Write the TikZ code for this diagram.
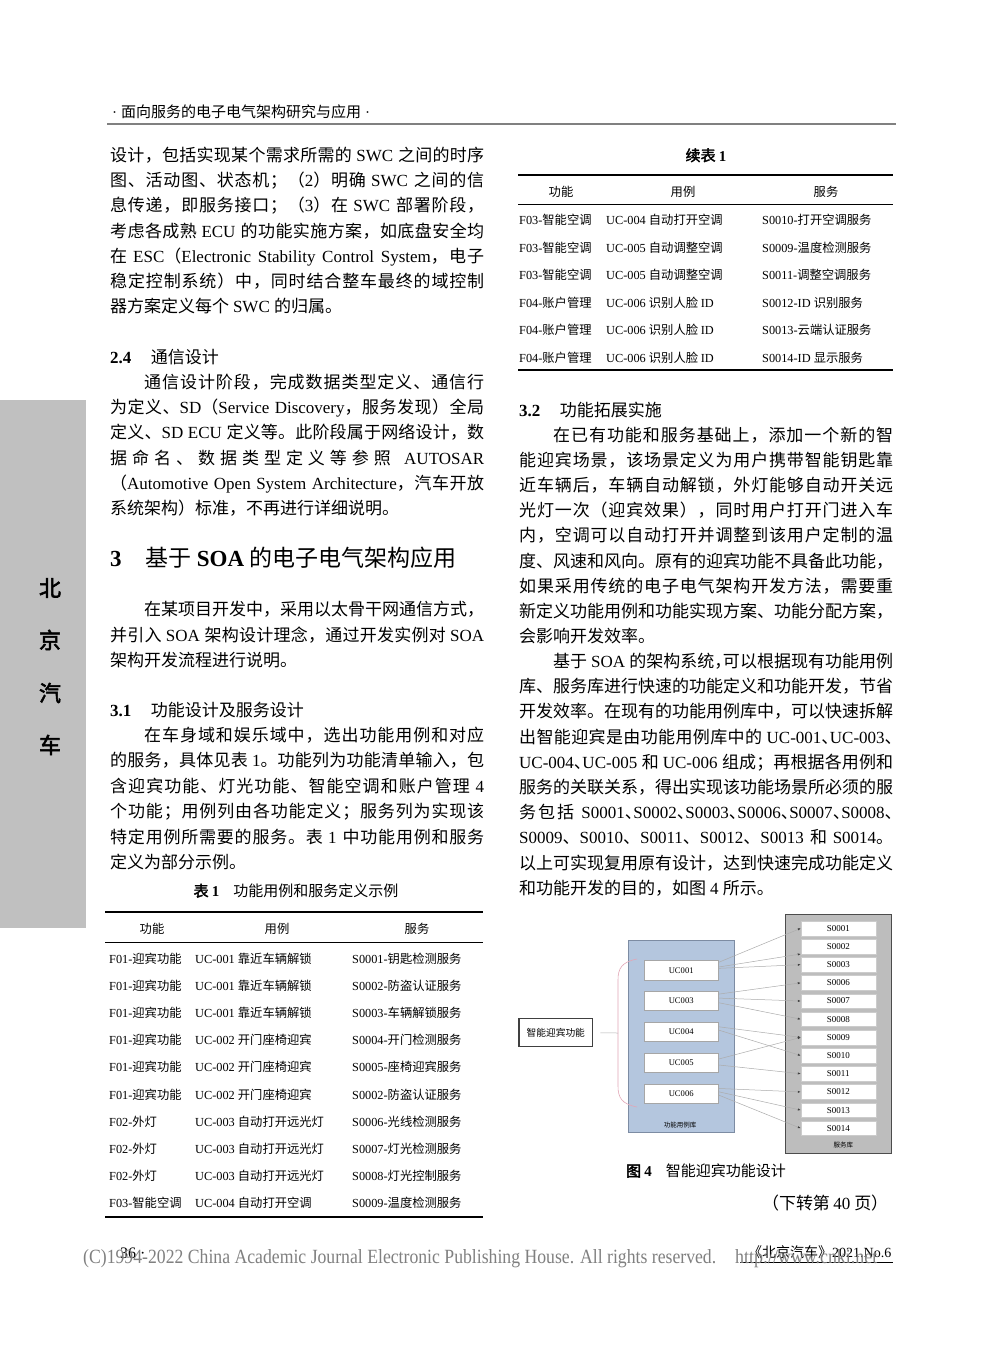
\documentclass[tikz,border=0pt]{standalone}
\usepackage[svgnames]{xcolor}
\usepackage{fontspec}
\usepackage{graphicx}
\usetikzlibrary{arrows.meta,positioning}

\setmainfont{Liberation Serif}
\newfontfamily\cjkfont{Noto Sans CJK SC}[AutoFakeBold=2.5]

\definecolor{barGray}{HTML}{C0C0C0}
\definecolor{ucBlue}{HTML}{B4C6DE}
\definecolor{ucEdge}{HTML}{7D8CA3}
\definecolor{srvGray}{HTML}{BDBDBD}
\definecolor{braceRose}{HTML}{E2A6B6}

\newcommand\fsz[1]{\fontsize{#1}{#1}\selectfont}
\newcommand\jl[1]{\hbox to\hsize{#1}}
\newcommand\el[1]{\hbox to\hsize{#1\hfil}}
\newcommand\ind{\hskip34pt}
\newcommand\hd[1]{\makebox[.5em][l]{#1}}
\newcommand\colpar[2]{\vtop{\hsize=374pt\baselineskip=#1\lineskiplimit=-99pt #2}}

% hanzi get a class of their own: font switch plus a little stretch
\newXeTeXintercharclass\hzclass
\newcount\hzc
\newcommand\sethz[2]{\hzc=#1 \loop\XeTeXcharclass\hzc=\hzclass
  \ifnum\hzc<#2 \advance\hzc by 1 \repeat}
\sethz{"3000}{"303F}
\sethz{"4E00}{"9FFF}
\sethz{"FF00}{"FFEF}
\XeTeXinterchartoks 0 \hzclass = {\cjkfont}
\XeTeXinterchartoks 4095 \hzclass = {\cjkfont}
\XeTeXinterchartoks \hzclass 0 = {\rmfamily}
\XeTeXinterchartoks 4095 0 = {\rmfamily}
\XeTeXinterchartoks \hzclass \hzclass = {\hskip0pt plus 1pt minus .3pt}
\XeTeXinterchartokenstate=1

\begin{document}
\begin{tikzpicture}[x=1pt,y=-1pt,
    every node/.style={inner sep=0pt},
    txt/.style={anchor=base west},
    body/.style={txt,font=\fsz{17}},
    cell/.style={txt,font=\fsz{12.3}},
    hcell/.style={anchor=base,font=\fsz{12.3}},
    ucbox/.style={draw=gray!70,fill=white,line width=.4pt,minimum width=74.3pt,minimum height=19.3pt,font=\fsz{8.6}},
    sbox/.style={draw=gray!40,fill=white,line width=.3pt,minimum width=74.7pt,minimum height=14.7pt,font=\fsz{9}},
    link/.style={draw=gray!65,line width=.5pt,-{Latex[length=3pt,width=2.2pt,color=black!75]}}]
  \useasboundingbox (0,0) rectangle (992,1347);
  \fill[white] (0,0) rectangle (992,1347);

  % running head
  \node[txt,font=\fsz{15}] (runhead) at (112,117.5) {·\hskip4pt 面向服务的电子电气架构研究与应用\hskip4pt ·};
  \draw[gray,line width=2pt] (107,124) -- (896,124);

  % side bar
  \fill[barGray] (0,400) rectangle (86,928);
  \foreach \ch/\yy [count=\n] in {北/588,京/640,汽/693,车/745}
    \node[font=\fsz{22}\bfseries] (bar\n) at (50,\yy) {\ch};

  % left column
  \node[body] (para1) at (110,161.5) {\colpar{25.17pt}{%
    \jl{设计，包括实现某个需求所需的 SWC 之间的时序}
    \jl{图、活动图、状态机；（2）明确 SWC 之间的信}
    \jl{息传递，即服务接口；（3）在 SWC 部署阶段，}
    \jl{考虑各成熟 ECU 的功能实施方案，如底盘安全均}
    \jl{在 ESC（Electronic Stability Control System，电子}
    \jl{稳定控制系统）中，同时结合整车最终的域控制}
    \el{器方案定义每个 SWC 的归属。}}};
  \node[body] (h24) at (110,363.5) {{\bfseries 2.4}\hskip19.5pt 通信设计};
  \node[body] (para2) at (110,388.5) {\colpar{25.2pt}{%
    \jl{\ind 通信设计阶段，完成数据类型定义、通信行}
    \jl{为定义、SD（Service Discovery，服务发现）全局}
    \jl{定义、SD ECU 定义等。此阶段属于网络设计，数}
    \jl{据命名、数据类型定义等参照 AUTOSAR}
    \jl{（Automotive Open System Architecture，汽车开放}
    \el{系统架构）标准，不再进行详细说明。}}};
  \node[txt,font=\fsz{23}] (h3) at (110,566.5) {{\bfseries 3}\hskip24pt 基于 {\bfseries SOA} 的电子电气架构应用};
  \node[body] (para3) at (110,615.5) {\colpar{25.5pt}{%
    \jl{\ind 在某项目开发中，采用以太骨干网通信方式，}
    \jl{并引入 SOA 架构设计理念，通过开发实例对 SOA}
    \el{架构开发流程进行说明。}}};
  \node[body] (h31) at (110,716.5) {{\bfseries 3.1}\hskip19.5pt 功能设计及服务设计};
  \node[body] (para4) at (110,741.5) {\colpar{25.4pt}{%
    \jl{\ind 在车身域和娱乐域中，选出功能用例和对应}
    \jl{的服务，具体见表 1。功能列为功能清单输入，包}
    \jl{含迎宾功能、灯光功能、智能空调和账户管理 4}
    \jl{个功能；用例列由各功能定义；服务列为实现该}
    \jl{特定用例所需要的服务。表 1 中功能用例和服务}
    \el{定义为部分示例。}}};

  % table 1
  \node[anchor=base,font=\fsz{15}] (tab1cap) at (296,896.5) {{\bfseries 表 1}\hskip14pt 功能用例和服务定义示例};
  \draw[line width=1.8pt] (105,912) -- (483,912);
  \draw[line width=.8pt] (105,942) -- (483,942);
  \draw[line width=1.8pt] (105,1217) -- (483,1217);
  \node[hcell] (lhA) at (152,933) {功能};
  \node[hcell] (lhB) at (277,933) {用例};
  \node[hcell] (lhC) at (417,933) {服务};
  \foreach \colA/\colB/\colC [count=\r from 0] in {%
      F01-迎宾功能/UC-001 靠近车辆解锁/S0001-钥匙检测服务,
      F01-迎宾功能/UC-001 靠近车辆解锁/S0002-防盗认证服务,
      F01-迎宾功能/UC-001 靠近车辆解锁/S0003-车辆解锁服务,
      F01-迎宾功能/UC-002 开门座椅迎宾/S0004-开门检测服务,
      F01-迎宾功能/UC-002 开门座椅迎宾/S0005-座椅迎宾服务,
      F01-迎宾功能/UC-002 开门座椅迎宾/S0002-防盗认证服务,
      F02-外灯/UC-003 自动打开远光灯/S0006-光线检测服务,
      F02-外灯/UC-003 自动打开远光灯/S0007-灯光检测服务,
      F02-外灯/UC-003 自动打开远光灯/S0008-灯光控制服务,
      F03-智能空调/UC-004 自动打开空调/S0009-温度检测服务} {
    \node[cell] (la\r) at (109,{963+27.2*\r}) {\colA};
    \node[cell] (lb\r) at (195,{963+27.2*\r}) {\colB};
    \node[cell] (lc\r) at (352,{963+27.2*\r}) {\colC};
  }

  % right column: table 1 continued
  \node[anchor=base,font=\fsz{15}\bfseries] (tab1cont) at (706,161) {续表 1};
  \draw[line width=1.8pt] (518,175) -- (893,175);
  \draw[line width=.8pt] (518,204) -- (893,204);
  \draw[line width=1.8pt] (518,370) -- (893,370);
  \node[hcell] (rhA) at (561,196.4) {功能};
  \node[hcell] (rhB) at (683,196.4) {用例};
  \node[hcell] (rhC) at (826,196.4) {服务};
  \foreach \colA/\colB/\colC [count=\r from 0] in {%
      F03-智能空调/UC-004 自动打开空调/S0010-打开空调服务,
      F03-智能空调/UC-005 自动调整空调/S0009-温度检测服务,
      F03-智能空调/UC-005 自动调整空调/S0011-调整空调服务,
      F04-账户管理/UC-006 识别人脸 ID/S0012-ID 识别服务,
      F04-账户管理/UC-006 识别人脸 ID/S0013-云端认证服务,
      F04-账户管理/UC-006 识别人脸 ID/S0014-ID 显示服务} {
    \node[cell] (ra\r) at (519,{224.7+27.46*\r}) {\colA};
    \node[cell] (rb\r) at (606,{224.7+27.46*\r}) {\colB};
    \node[cell] (rc\r) at (762,{224.7+27.46*\r}) {\colC};
  }

  \node[body] (h32) at (519,416.5) {{\bfseries 3.2}\hskip19.5pt 功能拓展实施};
  \node[body] (para5) at (519,441.5) {\colpar{25.12pt}{%
    \jl{\ind 在已有功能和服务基础上，添加一个新的智}
    \jl{能迎宾场景，该场景定义为用户携带智能钥匙靠}
    \jl{近车辆后，车辆自动解锁，外灯能够自动开关远}
    \jl{光灯一次（迎宾效果），同时用户打开门进入车}
    \jl{内，空调可以自动打开并调整到该用户定制的温}
    \jl{度、风速和风向。原有的迎宾功能不具备此功能，}
    \jl{如果采用传统的电子电气架构开发方法，需要重}
    \jl{新定义功能用例和功能实现方案、功能分配方案，}
    \el{会影响开发效率。}}};
  \node[body] (para6) at (519,667.5) {\colpar{25.2pt}{%
    \jl{\ind 基于 SOA 的架构系统\hd{，}可以根据现有功能用例}
    \jl{库、服务库进行快速的功能定义和功能开发，节省}
    \jl{开发效率。在现有的功能用例库中，可以快速拆解}
    \jl{出智能迎宾是由功能用例库中的 UC-001\hd{、}UC-003\hd{、}}
    \jl{UC-004\hd{、}UC-005 和 UC-006 组成；再根据各用例和}
    \jl{服务的关联关系，得出实现该功能场景所必须的服}
    \jl{务包括 S0001\hd{、}S0002\hd{、}S0003\hd{、}S0006\hd{、}S0007\hd{、}S0008\hd{、}}
    \jl{S0009、S0010、S0011、S0012、S0013 和 S0014。}
    \jl{以上可实现复用原有设计，达到快速完成功能定义}
    \el{和功能开发的目的，如图 4 所示。}}};

  % figure 4
  \node[draw=ucEdge,fill=ucBlue,line width=.8pt,minimum width=106.3pt,minimum height=191.6pt] (uclib) at (681.2,1036.5) {};
  \node[draw=black!70,fill=srvGray,line width=.8pt,minimum width=106.7pt,minimum height=239pt] (srvlib) at (838.3,1033.8) {};
  \node[font=\fsz{6.5}] (uclabel) at (680,1125) {功能用例库};
  \node[font=\fsz{6.5}] (srvlabel) at (843.3,1145) {服务库};
  \node[draw=black!75,line width=1.5pt,minimum width=73.5pt,minimum height=28.2pt,font=\fsz{9.7}] (func) at (555.8,1032.5) {智能迎宾功能};
  \foreach \u/\yy in {001/970.3,003/1000.7,004/1032,005/1063,006/1093.7}
    \node[ucbox] (UC\u) at (681.2,\yy) {UC\u};
  \foreach \s [count=\k from 0] in {0001,0002,0003,0006,0007,0008,0009,0010,0011,0012,0013,0014}
    \node[sbox] (S\s) at (838.3,{928.3+18.18*\k}) {S\s};
  \coordinate (bracetip) at (618,1033);
  \draw[braceRose,line width=.6pt] (637,959) .. controls (622,962) and (618,968) .. (618,980)
    -- (618,1086) .. controls (618,1098) and (622,1104) .. (637,1107);
  \draw[gray!60,line width=.5pt,shorten <=7pt] (func) -- (bracetip);
  \foreach \a/\b in {UC001.12/S0001.west, UC001.5/S0002.south west, UC001.3/S0003.west,
                     UC003.10/S0006.west, UC003.4/S0007.west, UC003.357/S0008.west,
                     UC004.8/S0009.west, UC004.3/S0010.west,
                     UC005.6/S0009.west, UC005.357/S0011.west,
                     UC006.8/S0012.west, UC006.3/S0013.west, UC006.358/S0014.west}
    \draw[link] (\a) -- (\b);
  \node[anchor=base,font=\fsz{15}] (fig4cap) at (706,1176.5) {{\bfseries 图 4}\hskip14pt 智能迎宾功能设计};
  \node[body] (contd) at (762,1209.5) {\hbox to126pt{（下转第 40 页）}};

  % foot
  \node[txt,font=\fsz{16}] (pgno) at (120,1258) {36 ·};
  \node[txt,font=\fsz{14}] (jname) at (748,1257) {《北京汽车》2021.No.6};
  \draw[line width=.6pt] (740,1262) -- (893,1262);
  \node[txt,text=gray] (cnkiA) at (83,1263) {\resizebox{633pt}{14pt}{(C)1994-2022 China Academic Journal Electronic Publishing House. All rights reserved.}};
  \node[txt,text=gray] (cnkiB) at (735,1263) {\resizebox{142pt}{14pt}{http://www.cnki.net}};
\end{tikzpicture}
\end{document}
